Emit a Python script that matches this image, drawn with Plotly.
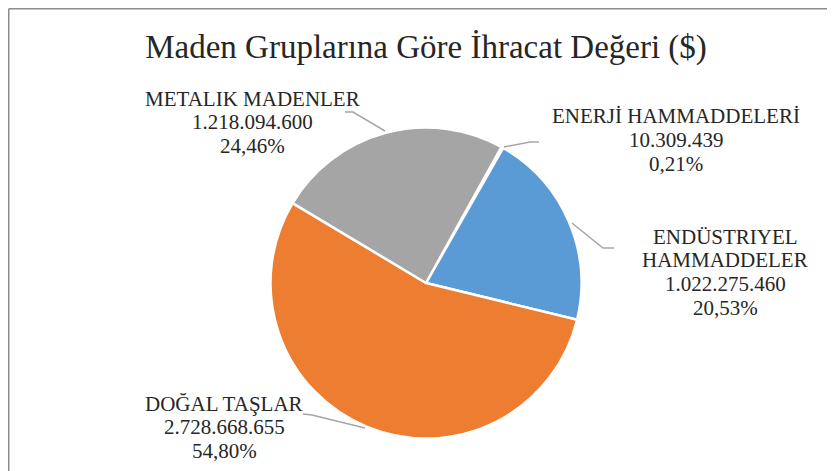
import plotly.graph_objects as go

# ---- data ----
categories = ["ENERJİ HAMMADDELERİ", "ENDÜSTRIYEL HAMMADDELER", "DOĞAL TAŞLAR", "METALIK MADENLER"]
category_lines = [["ENERJİ HAMMADDELERİ"], ["ENDÜSTRIYEL", "HAMMADDELER"], ["DOĞAL TAŞLAR"], ["METALIK MADENLER"]]
values = [10309439, 1022275460, 2728668655, 1218094600]
colors = ["#FFC000", "#5B9BD5", "#ED7D31", "#A5A5A5"]
title_text = "Maden Gruplarına Göre İhracat Değeri ($)"

W, H = 835, 471
OFF = 8  # page body margin of the html page
FONT = "Liberation Serif, Times New Roman, serif"
TXT = "#262626"

total = sum(values)

def fmt_val(v):
    return f"{v:,}".replace(",", ".")

def fmt_pct(v):
    return f"{100 * v / total:.2f}".replace(".", ",") + "%"

def px(x):
    return (x - OFF) / W

def py(y):
    return 1 - (y - OFF) / H

# pie geometry (screen pixels)
cx, cy, r = 426, 283, 155.5

fig = go.Figure(go.Pie(
    labels=categories,
    values=values,
    sort=False,
    direction="clockwise",
    rotation=29,
    textinfo="none",
    hoverinfo="label+value+percent",
    marker=dict(colors=colors, line=dict(color="white", width=2.5)),
    domain=dict(x=[px(cx - r), px(cx + r)], y=[py(cy + r), py(cy - r)]),
    showlegend=False,
))

# label placement (screen pixel: centre x, first line centre y) and leader lines
label_pos = [(676, 116), (725, 236.5), (224, 403.5), (252, 98.5)]
LINE = 23.8
leaders = [
    [(504, 147), (530, 142), (539, 142)],
    [(572, 223), (603, 248), (614, 248)],
    [(365, 428), (312, 415), (303, 414)],
    [(385, 131), (353, 112), (345, 112)],
]

annotations = []
shapes = []
for name_lines, v, (lx, ly), pts in zip(category_lines, values, label_pos, leaders):
    lines = name_lines + [fmt_val(v), fmt_pct(v)]
    for i, t in enumerate(lines):
        annotations.append(dict(
            x=px(lx), y=py(ly + i * LINE), xref="paper", yref="paper",
            text=t, showarrow=False, align="center",
            xanchor="center", yanchor="middle",
            font=dict(family=FONT, size=21, color=TXT),
        ))
    path = "M " + " L ".join(f"{px(x):.5f},{py(y):.5f}" for x, y in pts)
    shapes.append(dict(type="path", path=path, xref="paper", yref="paper",
                       line=dict(color="#A6A6A6", width=1.5)))

# chart frame (left and top edges)
shapes.append(dict(type="line", xref="paper", yref="paper",
                   x0=px(OFF + 0.75), y0=py(OFF + 0.75), x1=px(OFF + 0.75), y1=py(H + OFF + 5),
                   line=dict(color="#8C8C8C", width=1.5)))
shapes.append(dict(type="line", xref="paper", yref="paper",
                   x0=px(OFF + 0.75), y0=py(OFF + 0.75), x1=px(W + OFF + 5), y1=py(OFF + 0.75),
                   line=dict(color="#8C8C8C", width=1.5)))

fig.update_layout(
    width=W, height=H,
    margin=dict(l=0, r=0, t=0, b=0),
    paper_bgcolor="white", plot_bgcolor="white",
    title=dict(text=title_text, x=px(426), xanchor="center", y=py(46), yanchor="middle",
               font=dict(family=FONT, size=33, color=TXT)),
    annotations=annotations,
    shapes=shapes,
)

fig.write_html("out.html")
